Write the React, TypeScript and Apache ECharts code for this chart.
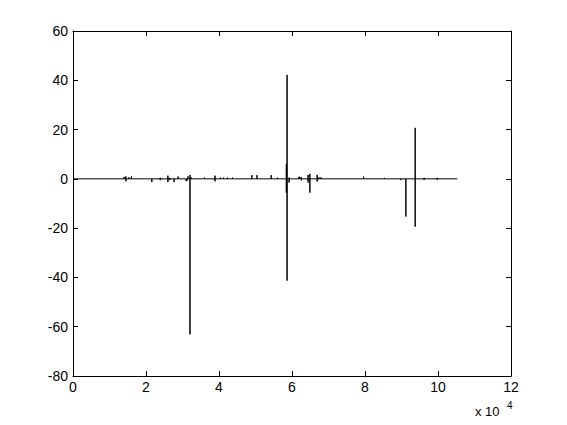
import React, { useEffect, useRef } from "react";
import * as echarts from "echarts";

// Spike positions (sample index) and their positive / negative excursions
const spikeX = [
  14000, 14500, 15300, 16000, 21600, 23900, 24000, 26000, 26500, 27700, 28800,
  31000, 31200, 31500, 32050, 32400, 36000, 38900, 40400, 41200, 42300, 43700,
  49000, 50400, 54300, 56000, 58450, 58650, 59200, 61900, 62000, 62300, 62600,
  64400, 64900, 66900, 67400, 67900, 79600, 85300, 89800, 91200, 93750, 96200,
  99800,
];
const spikeUp = [
  0.8, 1, 0.6, 1, 0, 0.4, 0.4, 1.3, 0.4, 0, 0.9,
  0, 0, 1.0, 1.6, 0.6, 0.5, 1.3, 0.5, 0.5, 0.5, 0.5,
  1.5, 1.5, 1.5, 0.5, 6.1, 42.2, 0.5, 0.6, 0.9, 0.5, 0.6,
  1.6, 2.0, 1.6, 0.6, 0.6, 0.9, 0.4, 0, 0, 20.7, 0.4,
  0.4,
];
const spikeDown = [
  0, -1, 0, 0, -1.3, -0.5, -0.5, -1.3, -0.5, -1.3, 0,
  -0.9, -0.9, 0, -63.1, 0, 0, -1, 0, 0, 0, 0,
  0, 0, 0, 0, -5.6, -41.3, -1.5, 0, 0, 0, -0.6,
  -1.5, -5.6, -1.1, 0, 0, 0, 0, -0.5, -15.3, -19.4, -0.4,
  -0.4,
];
const signalStart = 0;
const signalEnd = 105300;

const xTicks = [0, 2, 4, 6, 8, 10, 12];
const yTicks = [-80, -60, -40, -20, 0, 20, 40, 60];

const FONT = "'Liberation Sans', Arial, Helvetica, sans-serif";

export default function App() {
  const ref = useRef<HTMLDivElement>(null);
  useEffect(() => {
    if (!ref.current) return;
    const chart = echarts.init(ref.current, null, { renderer: "svg" });
    const data: number[][] = [[signalStart, 0]];
    spikeX.forEach((x, i) => {
      data.push([x, 0], [x, spikeUp[i]], [x, spikeDown[i]], [x, 0]);
    });
    data.push([signalEnd, 0]);

    const axisCommon = {
      type: "value" as const,
      axisLine: { show: true, onZero: false, lineStyle: { color: "#000", width: 1 } },
      axisTick: { show: true, inside: true, length: 5, lineStyle: { color: "#000" } },
      splitLine: { show: false },
    };
    const xMin = xTicks[0] * 10000;
    const xMax = xTicks[xTicks.length - 1] * 10000;
    const xInt = (xTicks[1] - xTicks[0]) * 10000;
    const yMin = yTicks[0];
    const yMax = yTicks[yTicks.length - 1];
    const yInt = yTicks[1] - yTicks[0];

    chart.setOption({
      animation: false,
      backgroundColor: "#fff",
      grid: { left: 73, right: 56, top: 31, bottom: 49, containLabel: false },
      xAxis: [
        {
          ...axisCommon,
          position: "bottom",
          min: xMin,
          max: xMax,
          interval: xInt,
          axisLabel: {
            color: "#000",
            fontFamily: FONT,
            fontSize: 14,
            margin: 4,
            formatter: (v: number) => String(v / 10000),
          },
        },
        {
          ...axisCommon,
          position: "top",
          min: xMin,
          max: xMax,
          interval: xInt,
          axisLabel: { show: false },
        },
      ],
      yAxis: [
        {
          ...axisCommon,
          position: "left",
          min: yMin,
          max: yMax,
          interval: yInt,
          axisLabel: { color: "#000", fontFamily: FONT, fontSize: 14, margin: 5 },
        },
        {
          ...axisCommon,
          position: "right",
          min: yMin,
          max: yMax,
          interval: yInt,
          axisLabel: { show: false },
        },
      ],
      graphic: [
        {
          type: "text",
          left: 475,
          top: 405,
          style: { text: "x 10", fill: "#000", font: `13px ${FONT}` },
        },
        {
          type: "text",
          left: 507,
          top: 400,
          style: { text: "4", fill: "#000", font: `10px ${FONT}` },
        },
      ],
      series: [
        {
          type: "line",
          xAxisIndex: 0,
          yAxisIndex: 0,
          data,
          symbol: "none",
          lineStyle: { color: "#000", width: 1 },
        },
      ],
    });
    return () => chart.dispose();
  }, []);
  return (
    <div
      ref={ref}
      style={{ position: "fixed", left: 0, top: 0, width: 567, height: 425, background: "#fff" }}
    />
  );
}
